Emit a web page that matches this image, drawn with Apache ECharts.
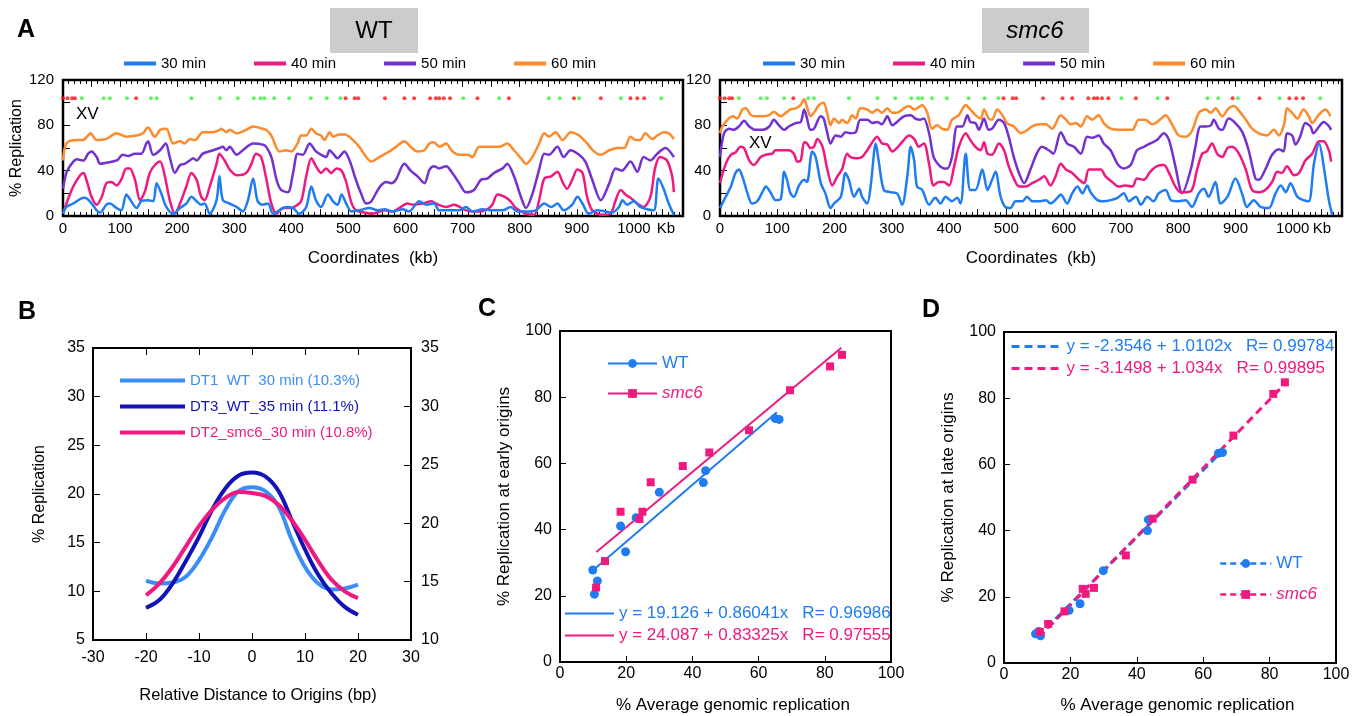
<!DOCTYPE html>
<html><head><meta charset="utf-8">
<script src="https://cdn.jsdelivr.net/npm/echarts@6/dist/echarts.min.js"></script>
<style>html,body{margin:0;padding:0;background:#fff}#c{width:1360px;height:716px}</style>
</head><body><div id="c"></div>
<script>
const FONT = 'Liberation Sans, Arial, Helvetica, sans-serif';

// ---------- Panel A : replication profiles of chromosome XV ----------
const timeLabels = ['30 min', '40 min', '50 min', '60 min'];
const kbTickLabels = [0, 100, 200, 300, 400, 500, 600, 700, 800, 900, 1000];

const wt60 = [[0,49],[6,64],[24,67],[35,67],[44,71],[48,73],[59,67],[76,68],[94,73],[111,70],[129,71],[140,73],[146,77],[149,78],[158,71],[161,70],[170,76],[181,77],[193,64],[205,66],[213,64],[222,68],[231,67],[245,74],[263,74],[274,76],[277,77],[286,74],[292,76],[304,73],[321,76],[333,79],[350,77],[356,76],[365,71],[374,60],[379,57],[391,58],[400,57],[411,64],[417,71],[426,71],[435,77],[443,73],[452,71],[458,67],[467,74],[473,70],[484,72],[494,72],[508,67],[519,61],[531,52],[540,48],[554,52],[572,57],[583,61],[598,66],[609,61],[621,57],[633,58],[642,64],[650,65],[659,61],[671,64],[682,57],[694,54],[709,54],[717,52],[729,61],[747,61],[764,61],[778,64],[790,58],[802,51],[811,46],[822,52],[834,64],[843,73],[851,70],[863,74],[875,67],[889,74],[904,71],[918,64],[930,57],[942,54],[957,58],[971,60],[983,60],[994,70],[1003,67],[1011,67],[1020,73],[1032,68],[1041,71],[1052,74],[1061,73],[1070,68]];
const wt50 = [[0,24],[6,38],[15,46],[24,50],[36,49],[44,55],[50,57],[59,52],[65,46],[76,47],[94,49],[105,54],[114,53],[126,55],[137,55],[146,64],[149,66],[158,54],[170,58],[180,64],[187,52],[196,38],[205,45],[213,46],[222,49],[228,51],[234,49],[245,55],[263,58],[274,60],[280,61],[286,58],[292,61],[304,54],[315,58],[333,64],[350,63],[356,61],[365,52],[374,32],[382,23],[394,21],[403,38],[411,55],[420,54],[432,64],[443,57],[452,54],[461,52],[467,58],[473,55],[481,51],[493,57],[502,49],[513,32],[522,20],[531,11],[540,13],[548,20],[557,27],[566,30],[575,29],[583,32],[598,46],[609,40],[621,35],[633,29],[642,41],[650,44],[659,42],[671,44],[682,38],[694,29],[706,21],[720,23],[732,32],[743,33],[755,38],[770,42],[778,46],[790,35],[802,17],[811,7],[822,19],[834,41],[843,55],[851,54],[866,61],[877,52],[889,58],[904,54],[915,48],[927,32],[942,14],[957,29],[968,42],[979,40],[994,48],[1006,39],[1017,52],[1029,49],[1041,55],[1055,60],[1070,52]];
const wt40 = [[0,2],[6,11],[18,26],[30,36],[36,38],[41,32],[50,17],[59,10],[68,17],[76,29],[85,30],[94,27],[102,32],[111,42],[117,42],[126,32],[135,14],[143,21],[152,38],[161,45],[170,48],[178,36],[187,14],[196,2],[205,11],[216,26],[225,38],[234,32],[242,17],[248,14],[257,26],[269,46],[274,55],[283,49],[292,41],[304,36],[321,38],[330,46],[338,55],[347,52],[356,33],[365,11],[374,2],[385,7],[397,7],[405,8],[417,13],[426,35],[435,51],[443,44],[452,38],[461,42],[470,38],[479,42],[488,40],[496,30],[505,12],[513,5],[530,3],[541,2],[563,5],[577,4],[592,8],[603,11],[614,10],[630,11],[645,13],[653,11],[671,8],[685,10],[706,5],[723,4],[740,5],[752,10],[761,19],[773,17],[784,13],[793,7],[811,2],[825,1],[834,14],[843,33],[855,35],[866,39],[875,30],[883,24],[892,32],[901,41],[910,38],[918,17],[927,5],[944,1],[959,2],[968,14],[977,23],[985,19],[994,16],[1006,11],[1017,8],[1029,17],[1037,42],[1046,52],[1058,49],[1067,35],[1070,21]];
const wt30 = [[0,2],[6,8],[18,11],[30,15],[38,16],[47,13],[59,5],[65,3],[76,10],[82,11],[94,7],[102,5],[111,19],[117,15],[129,7],[137,13],[149,14],[158,13],[164,29],[172,20],[181,8],[193,2],[205,7],[216,11],[225,17],[234,13],[242,10],[248,11],[257,2],[269,14],[274,35],[280,14],[292,11],[304,8],[315,4],[324,14],[333,33],[341,13],[350,10],[359,11],[368,2],[379,5],[391,8],[403,7],[414,2],[426,8],[435,26],[443,14],[452,8],[464,19],[473,13],[481,10],[488,19],[496,11],[505,4],[519,5],[537,7],[551,5],[563,6],[578,4],[595,6],[606,4],[624,13],[636,10],[650,11],[659,5],[677,5],[694,5],[706,8],[717,4],[735,6],[752,5],[770,5],[784,8],[796,4],[811,4],[828,5],[843,11],[855,8],[866,11],[877,5],[892,10],[901,17],[910,11],[921,2],[936,5],[950,4],[962,3],[974,8],[980,14],[988,10],[1000,13],[1011,8],[1023,6],[1035,5],[1043,33],[1052,24],[1061,11],[1070,1]];

const smc60 = [[0,73],[4,79],[15,86],[22,88],[30,86],[39,94],[45,95],[54,89],[62,88],[74,88],[86,89],[94,92],[106,88],[115,91],[123,94],[132,95],[141,98],[147,103],[152,96],[158,88],[164,91],[173,98],[181,100],[187,91],[193,80],[199,86],[208,82],[213,85],[222,82],[231,89],[237,86],[245,95],[257,94],[266,91],[274,94],[283,91],[292,95],[301,91],[309,91],[321,95],[330,97],[339,94],[347,96],[353,98],[362,91],[370,77],[379,80],[388,77],[397,76],[405,85],[417,89],[429,98],[437,94],[446,89],[455,86],[461,94],[469,86],[475,85],[484,94],[493,89],[501,82],[513,79],[525,73],[534,75],[545,79],[557,81],[569,81],[580,77],[595,89],[604,85],[612,81],[621,82],[630,79],[641,88],[650,85],[661,89],[670,82],[682,77],[696,76],[708,76],[720,76],[731,85],[743,85],[754,81],[766,84],[778,89],[789,81],[801,71],[813,70],[824,75],[836,91],[848,94],[857,91],[865,95],[877,88],[888,95],[897,97],[906,93],[918,85],[929,77],[941,73],[955,71],[967,76],[976,71],[985,81],[990,95],[999,91],[1008,86],[1019,94],[1028,88],[1034,82],[1045,89],[1057,94],[1066,88]];
const smc50 = [[0,52],[7,73],[16,77],[24,76],[33,79],[42,84],[51,79],[62,76],[74,76],[86,79],[94,85],[103,80],[112,76],[120,79],[132,82],[141,83],[147,94],[152,86],[158,76],[164,77],[176,88],[181,86],[187,74],[193,64],[202,71],[211,70],[219,74],[228,73],[237,74],[245,85],[257,85],[266,82],[274,83],[283,81],[292,88],[301,80],[309,83],[321,88],[333,89],[341,86],[350,85],[356,86],[365,73],[373,52],[382,45],[391,42],[397,42],[405,52],[414,79],[423,79],[432,89],[437,83],[446,82],[452,76],[461,86],[469,76],[475,77],[487,85],[496,82],[504,70],[513,52],[522,38],[531,29],[542,41],[553,55],[562,61],[574,58],[582,55],[595,74],[606,64],[618,61],[630,55],[641,70],[650,69],[661,71],[670,64],[682,58],[694,46],[705,42],[717,45],[728,58],[740,61],[751,64],[763,67],[775,73],[784,67],[795,44],[807,20],[822,41],[830,61],[839,79],[848,79],[857,80],[862,85],[871,77],[877,76],[888,86],[900,82],[912,74],[923,58],[935,33],[941,32],[952,41],[964,54],[976,59],[984,57],[990,73],[999,71],[1005,63],[1013,70],[1022,82],[1031,79],[1036,73],[1046,79],[1054,83],[1062,80],[1067,76]];
const smc40 = [[0,29],[10,46],[19,54],[27,56],[36,61],[42,60],[51,49],[59,45],[71,52],[80,54],[91,55],[97,58],[109,58],[120,58],[129,55],[135,48],[141,49],[147,65],[152,64],[158,60],[164,61],[170,68],[179,61],[187,42],[196,27],[205,35],[213,41],[222,55],[228,52],[240,51],[248,52],[257,58],[266,65],[274,70],[283,64],[292,63],[301,57],[309,60],[321,67],[330,71],[339,68],[347,61],[356,64],[365,46],[373,27],[382,30],[391,30],[400,27],[408,42],[417,61],[429,73],[437,67],[446,61],[455,58],[461,65],[467,55],[475,54],[487,64],[496,58],[504,44],[513,33],[522,26],[534,26],[545,29],[557,32],[566,35],[577,27],[586,35],[595,46],[604,41],[615,38],[627,32],[636,29],[644,41],[656,41],[665,41],[673,35],[685,30],[696,26],[708,27],[720,26],[728,33],[740,32],[751,39],[763,44],[775,45],[784,38],[795,26],[804,21],[813,21],[824,23],[833,41],[842,55],[850,57],[859,64],[868,55],[877,52],[886,60],[894,61],[906,55],[918,41],[929,23],[941,21],[952,23],[964,30],[973,39],[981,38],[990,44],[1002,36],[1011,38],[1022,49],[1034,55],[1046,66],[1054,66],[1063,58],[1067,48]];
const smc30 = [[0,7],[10,17],[19,26],[27,38],[33,41],[39,35],[48,20],[56,11],[65,13],[74,21],[80,26],[88,21],[97,14],[106,15],[112,39],[117,32],[123,20],[129,17],[138,27],[147,32],[152,30],[161,57],[167,52],[176,29],[184,20],[193,7],[199,11],[211,17],[219,38],[225,32],[234,17],[243,24],[248,17],[257,11],[263,26],[272,64],[277,49],[286,23],[298,21],[309,20],[318,10],[327,35],[333,61],[339,49],[344,26],[353,23],[365,10],[376,16],[385,11],[394,17],[405,13],[414,16],[420,11],[429,55],[437,23],[446,23],[458,41],[467,23],[475,32],[481,39],[490,17],[498,8],[507,7],[516,13],[528,13],[536,17],[545,13],[557,13],[569,14],[577,11],[589,16],[595,19],[606,11],[615,20],[624,26],[633,20],[641,27],[647,21],[659,14],[670,13],[682,14],[694,16],[705,20],[714,13],[726,17],[735,10],[746,17],[757,13],[766,20],[778,23],[787,14],[798,13],[813,14],[824,8],[836,20],[845,24],[853,17],[865,30],[874,11],[886,17],[900,33],[912,19],[920,8],[932,14],[944,8],[958,7],[970,20],[979,27],[988,21],[996,29],[1008,17],[1019,14],[1028,13],[1037,46],[1046,64],[1054,44],[1063,14],[1069,1]];

const redOrigins = [0, 8, 16, 21, 128, 495, 511, 517, 564, 598, 615, 643, 653, 659, 667, 678, 726, 781, 895, 942, 994, 1006, 1018];
const greenOrigins = [33, 71, 82, 112, 154, 164, 225, 275, 306, 334, 346, 353, 370, 396, 434, 462, 486, 701, 764, 851, 870, 904, 977, 1048];
const originLevel = 104;

// ---------- Panel B : profiles around origins ----------
const bDistance = [-20, -17.5, -15, -12.5, -10, -7.5, -5, -2.5, 0, 2.5, 5, 7.5, 10, 12.5, 15, 17.5, 20];
const bDT1 = [11.1, 10.8, 10.9, 11.5, 13.2, 15.6, 18.4, 20.3, 20.7, 20.3, 18.7, 15.3, 12.5, 10.8, 10.2, 10.3, 10.7];
const bDT3 = [8.3, 9.1, 10.8, 13.1, 15.6, 18.4, 20.6, 21.9, 22.2, 21.8, 20.3, 17.3, 14.3, 11.7, 9.8, 8.4, 7.6];
const bDT2 = [9.6, 10.8, 12.5, 14.6, 16.7, 18.4, 19.6, 20.2, 20.1, 19.8, 18.9, 17.3, 15.3, 13.1, 11.2, 10.0, 9.3];
const bNames = ['DT1  WT  30 min (10.3%)', 'DT3_WT_35 min (11.1%)', 'DT2_smc6_30 min (10.8%)'];

// ---------- Panel C : early origins ----------
const cWT = [[9.9,27.8],[10.4,20.5],[11.3,24.5],[18.3,41.1],[19.8,33.3],[23.0,43.6],[30.0,51.3],[43.3,54.2],[44.0,57.8],[65.0,73.6],[66.2,73.3]];
const cSmc6 = [[10.9,22.5],[13.6,30.5],[18.3,45.4],[24.0,43.2],[24.9,45.4],[27.4,54.3],[37.1,59.2],[45.1,63.3],[57.1,70.0],[69.5,82.1],[81.6,89.3],[85.2,92.8]];
const cFitWT = [[10, 27.73], [65.5, 75.48]];
const cFitSmc6 = [[11, 33.25], [85, 94.91]];
const cFitNames = ['y = 19.126 + 0.86041x   R= 0.96986', 'y = 24.087 + 0.83325x   R= 0.97555'];

// ---------- Panel D : late origins ----------
const dWT = [[9.5,8.8],[10.5,9.5],[11.0,8.2],[19.6,15.9],[22.9,17.9],[29.9,27.9],[43.2,40.0],[43.5,43.3],[64.6,63.4],[65.8,63.6]];
const dSmc6 = [[10.8,9.4],[13.3,11.8],[18.2,15.6],[23.7,22.4],[24.6,20.9],[27.1,22.7],[36.7,32.5],[44.8,43.6],[56.8,55.4],[69.1,68.7],[81.1,81.3],[84.6,84.8]];
const dFitWT = [[10, 7.75], [65.8, 64.12]];
const dFitSmc6 = [[10.5, 7.71], [85, 84.74]];
const dFitNames = ['y = -2.3546 + 1.0102x   R= 0.99784', 'y = -3.1498 + 1.034x   R= 0.99895'];

// ---------- styles ----------
const BLUE = '#1f7cf2', PINK = '#f0197f', PURPLE = '#7331d2', ORANGE = '#ff8a2b';
const B_LIGHT = '#3b8ef7', B_NAVY = '#1212b8', B_PINK = '#f0197f';
const timeColors = [BLUE, PINK, PURPLE, ORANGE];

function tick(len) { return { show: true, inside: true, length: len, lineStyle: { color: '#000', width: 1 } }; }
function label(size, margin, extra) {
  return Object.assign({ color: '#000', fontSize: size, fontFamily: FONT, margin: margin }, extra || {});
}
function nameStyle(size, extra) { return Object.assign({ color: '#000', fontSize: size, fontFamily: FONT }, extra || {}); }
const noLine = { show: false, onZero: false };
const noSplit = { show: false };

function kbAxis(gi, pos, withLabels) {
  return {
    gridIndex: gi, type: 'value', position: pos, min: 0, max: 1086, interval: 50,
    axisLine: noLine, splitLine: noSplit, minorSplitLine: noSplit,
    axisTick: tick(7),
    minorTick: { show: true, splitNumber: 5, length: 4, lineStyle: { color: '#000', width: 1 } },
    axisLabel: label(15, 5, {
      show: withLabels, showMaxLabel: false,
      formatter: v => (kbTickLabels.indexOf(v) >= 0 ? String(v) : '')
    }),
    name: withLabels ? 'Coordinates  (kb)' : '', nameLocation: 'middle', nameGap: 34,
    nameTextStyle: nameStyle(17)
  };
}
function pctAxisY(gi, withName) {
  return {
    gridIndex: gi, type: 'value', min: 0, max: 120, interval: 40,
    axisLine: noLine, splitLine: noSplit, minorSplitLine: noSplit,
    axisTick: tick(7),
    minorTick: { show: true, splitNumber: 2, length: 7, lineStyle: { color: '#000', width: 1 } },
    axisLabel: label(15, 9),
    name: withName ? '% Replication' : '', nameLocation: 'middle', nameGap: 32,
    nameTextStyle: nameStyle(16)
  };
}
function sqAxis(gi, isX, nm, gap, extraName) {
  return {
    gridIndex: gi, type: 'value', min: 0, max: 100, interval: 20,
    axisLine: noLine, splitLine: noSplit, axisTick: tick(6),
    axisLabel: label(16, isX ? 4 : 8),
    name: nm, nameLocation: 'middle', nameGap: gap,
    nameTextStyle: nameStyle(17, extraName)
  };
}

function profileSeries(xi, yi, sets) {
  const out = [];
  for (let i = 3; i >= 0; i--) {
    out.push({
      type: 'line', name: timeLabels[i], xAxisIndex: xi, yAxisIndex: yi, data: sets[i],
      smooth: 0.3, symbol: 'none', lineStyle: { width: 2.5, color: timeColors[i] },
      itemStyle: { color: timeColors[i] }, z: 3
    });
  }
  out.push({ type: 'scatter', name: 'late', xAxisIndex: xi, yAxisIndex: yi, symbolSize: 4,
    data: redOrigins.map(k => [k, originLevel]), itemStyle: { color: '#ff1010' }, z: 4 });
  out.push({ type: 'scatter', name: 'early', xAxisIndex: xi, yAxisIndex: yi, symbolSize: 4,
    data: greenOrigins.map(k => [k, originLevel]), itemStyle: { color: '#3ef03e' }, z: 4 });
  return out;
}

const series = [].concat(
  profileSeries(0, 0, [wt30, wt40, wt50, wt60]),
  profileSeries(2, 1, [smc30, smc40, smc50, smc60]),
  [
    { type: 'line', name: bNames[0], xAxisIndex: 4, yAxisIndex: 2, smooth: 0.4, symbol: 'none',
      data: bDistance.map((d, i) => [d, bDT1[i]]), lineStyle: { width: 4, color: B_LIGHT }, itemStyle: { color: B_LIGHT } },
    { type: 'line', name: bNames[1], xAxisIndex: 4, yAxisIndex: 2, smooth: 0.4, symbol: 'none',
      data: bDistance.map((d, i) => [d, bDT3[i]]), lineStyle: { width: 4, color: B_NAVY }, itemStyle: { color: B_NAVY } },
    { type: 'line', name: bNames[2], xAxisIndex: 4, yAxisIndex: 2, smooth: 0.4, symbol: 'none',
      data: bDistance.map((d, i) => [d, bDT2[i]]), lineStyle: { width: 4, color: B_PINK }, itemStyle: { color: B_PINK } },

    { type: 'line', name: cFitNames[0], xAxisIndex: 6, yAxisIndex: 4, data: cFitWT, symbol: 'none',
      lineStyle: { width: 2, color: BLUE }, itemStyle: { color: BLUE } },
    { type: 'line', name: 'WT', xAxisIndex: 6, yAxisIndex: 4, data: cWT, symbol: 'circle', symbolSize: 9, showSymbol: true,
      lineStyle: { width: 2, opacity: 0, color: BLUE }, itemStyle: { color: BLUE } },
    { type: 'line', name: cFitNames[1], xAxisIndex: 6, yAxisIndex: 4, data: cFitSmc6, symbol: 'none',
      lineStyle: { width: 2, color: PINK }, itemStyle: { color: PINK } },
    { type: 'line', name: 'smc6', xAxisIndex: 6, yAxisIndex: 4, data: cSmc6, symbol: 'rect', symbolSize: 8, showSymbol: true,
      lineStyle: { width: 2, opacity: 0, color: PINK }, itemStyle: { color: PINK } },

    { type: 'line', name: 'WT_D', xAxisIndex: 7, yAxisIndex: 5, data: dWT, symbol: 'circle', symbolSize: 9, showSymbol: true,
      lineStyle: { width: 2, opacity: 0, type: [6, 4], color: BLUE }, itemStyle: { color: BLUE } },
    { type: 'line', name: dFitNames[0], xAxisIndex: 7, yAxisIndex: 5, data: dFitWT, symbol: 'none',
      lineStyle: { width: 3, type: [8, 5], color: BLUE }, itemStyle: { color: BLUE } },
    { type: 'line', name: 'smc6_D', xAxisIndex: 7, yAxisIndex: 5, data: dSmc6, symbol: 'rect', symbolSize: 8, showSymbol: true,
      lineStyle: { width: 2, opacity: 0, type: [6, 4], color: PINK }, itemStyle: { color: PINK } },
    { type: 'line', name: dFitNames[1], xAxisIndex: 7, yAxisIndex: 5, data: dFitSmc6, symbol: 'none',
      lineStyle: { width: 3, type: [8, 5], color: PINK }, itemStyle: { color: PINK } }
  ]
);

const gridBase = { show: true, borderColor: '#000', backgroundColor: 'transparent', containLabel: false, outerBoundsMode: 'none' };
const richLegend = {
  w: { color: BLUE, fontSize: 17, fontFamily: FONT },
  s: { color: PINK, fontSize: 17, fontFamily: FONT, fontStyle: 'italic' }
};
const markerFormatter = n => (n.indexOf('WT') === 0 ? '{w|WT}' : '{s|smc6}');

const option = {
  animation: false,
  backgroundColor: '#fff',
  textStyle: { fontFamily: FONT },
  grid: [
    Object.assign({ left: 63, top: 80, width: 620, height: 136, borderWidth: 2.5 }, gridBase),
    Object.assign({ left: 720, top: 80, width: 622, height: 136, borderWidth: 2.5 }, gridBase),
    Object.assign({ left: 93, top: 348, width: 318, height: 292, borderWidth: 2 }, gridBase),
    Object.assign({ left: 560, top: 331, width: 331, height: 331, borderWidth: 2 }, gridBase),
    Object.assign({ left: 1004, top: 332, width: 332, height: 331, borderWidth: 2 }, gridBase)
  ],
  xAxis: [
    kbAxis(0, 'bottom', true),
    kbAxis(0, 'top', false),
    kbAxis(1, 'bottom', true),
    kbAxis(1, 'top', false),
    { gridIndex: 2, type: 'value', position: 'bottom', min: -30, max: 30, interval: 10,
      axisLine: noLine, splitLine: noSplit, axisTick: tick(7), axisLabel: label(16, 10),
      name: 'Relative Distance to Origins (bp)', nameLocation: 'middle', nameGap: 47, nameTextStyle: nameStyle(16.5, { padding: [0, 0, 0, 12] }) },
    { gridIndex: 2, type: 'value', position: 'top', min: -30, max: 30, interval: 10,
      axisLine: noLine, splitLine: noSplit, axisTick: tick(7), axisLabel: { show: false } },
    sqAxis(3, true, '% Average genomic replication', 35, { padding: [0, 0, 0, 15] }),
    sqAxis(4, true, '% Average genomic replication', 34, { padding: [0, 0, 0, 15] })
  ],
  yAxis: [
    pctAxisY(0, true),
    pctAxisY(1, false),
    { gridIndex: 2, type: 'value', position: 'left', min: 5, max: 35, interval: 5,
      axisLine: noLine, splitLine: noSplit, axisTick: tick(7), axisLabel: label(16, 8),
      name: '% Replication', nameLocation: 'middle', nameGap: 45, nameTextStyle: nameStyle(16) },
    { gridIndex: 2, type: 'value', position: 'right', min: 10, max: 35, interval: 5,
      axisLine: noLine, splitLine: noSplit, axisTick: tick(7), axisLabel: label(16, 10) },
    sqAxis(3, false, '% Replication at early origins', 47),
    sqAxis(4, false, '% Replication at late origins', 47)
  ],
  legend: [
    { data: timeLabels, left: 124, top: 56, padding: 0, icon: 'rect', itemWidth: 32, itemHeight: 4, itemGap: 48,
      selectedMode: false, textStyle: { fontSize: 15, color: '#000', fontFamily: FONT } },
    { data: timeLabels, left: 763, top: 56, padding: 0, icon: 'rect', itemWidth: 32, itemHeight: 4, itemGap: 48,
      selectedMode: false, textStyle: { fontSize: 15, color: '#000', fontFamily: FONT } },
    { data: bNames.map((n, i) => ({ name: n, textStyle: { color: [B_LIGHT, B_NAVY, B_PINK][i] } })),
      orient: 'vertical', left: 120, top: 373, padding: 0, icon: 'rect', itemWidth: 65, itemHeight: 4, itemGap: 11,
      selectedMode: false, textStyle: { fontSize: 15, fontFamily: FONT } },
    { data: ['WT', 'smc6'], orient: 'vertical', left: 607, top: 355, padding: 0, itemWidth: 49, itemHeight: 11, itemGap: 13,
      selectedMode: false, formatter: markerFormatter, textStyle: { rich: richLegend },
      lineStyle: { width: 2, opacity: 1 } },
    { data: cFitNames.map((n, i) => ({ name: n, textStyle: { color: [BLUE, PINK][i] } })),
      orient: 'vertical', left: 564, top: 605, padding: 0, itemWidth: 49, itemHeight: 12, itemGap: 5,
      selectedMode: false, textStyle: { fontSize: 17, fontFamily: FONT }, itemStyle: { opacity: 0 } },
    { data: dFitNames.map((n, i) => ({ name: n, textStyle: { color: [BLUE, PINK][i] } })),
      orient: 'vertical', left: 1010, top: 338, padding: 0, itemWidth: 50, itemHeight: 12, itemGap: 5,
      selectedMode: false, textStyle: { fontSize: 17, fontFamily: FONT }, lineStyle: { width: 3 }, itemStyle: { opacity: 0 } },
    { data: ['WT_D', 'smc6_D'], orient: 'vertical', left: 1219, top: 555, padding: 0, itemWidth: 51, itemHeight: 11, itemGap: 14,
      selectedMode: false, formatter: markerFormatter, textStyle: { rich: richLegend },
      lineStyle: { width: 2.5, opacity: 1, type: [6, 4] } }
  ],
  graphic: [
    { type: 'rect', shape: { x: 330, y: 8, width: 88, height: 45 }, style: { fill: '#cccccc' } },
    { type: 'rect', shape: { x: 982, y: 8, width: 107, height: 45 }, style: { fill: '#cccccc' } },
    { type: 'text', x: 374, y: 31, style: { text: 'WT', fill: '#000', fontSize: 24, fontFamily: FONT, align: 'center', verticalAlign: 'middle' } },
    { type: 'text', x: 1035, y: 31, style: { text: 'smc6', fill: '#000', fontSize: 24, fontStyle: 'italic', fontFamily: FONT, align: 'center', verticalAlign: 'middle' } },
    { type: 'text', x: 17, y: 30, style: { text: 'A', fill: '#000', fontSize: 25, fontWeight: 'bold', fontFamily: FONT, verticalAlign: 'middle' } },
    { type: 'text', x: 18, y: 312, style: { text: 'B', fill: '#000', fontSize: 25, fontWeight: 'bold', fontFamily: FONT, verticalAlign: 'middle' } },
    { type: 'text', x: 478, y: 309, style: { text: 'C', fill: '#000', fontSize: 25, fontWeight: 'bold', fontFamily: FONT, verticalAlign: 'middle' } },
    { type: 'text', x: 922, y: 310, style: { text: 'D', fill: '#000', fontSize: 25, fontWeight: 'bold', fontFamily: FONT, verticalAlign: 'middle' } },
    { type: 'text', x: 76, y: 114, style: { text: 'XV', fill: '#000', fontSize: 17, fontFamily: FONT, verticalAlign: 'middle' } },
    { type: 'text', x: 749, y: 143, style: { text: 'XV', fill: '#000', fontSize: 17, fontFamily: FONT, verticalAlign: 'middle' } },
    { type: 'text', x: 666, y: 229, style: { text: 'Kb', fill: '#000', fontSize: 15, fontFamily: FONT, align: 'center', verticalAlign: 'middle' } },
    { type: 'text', x: 1322, y: 229, style: { text: 'Kb', fill: '#000', fontSize: 15, fontFamily: FONT, align: 'center', verticalAlign: 'middle' } }
  ],
  series: series
};

const chart = echarts.init(document.getElementById('c'), null, { renderer: 'canvas' });
chart.setOption(option);
</script>
</body></html>
